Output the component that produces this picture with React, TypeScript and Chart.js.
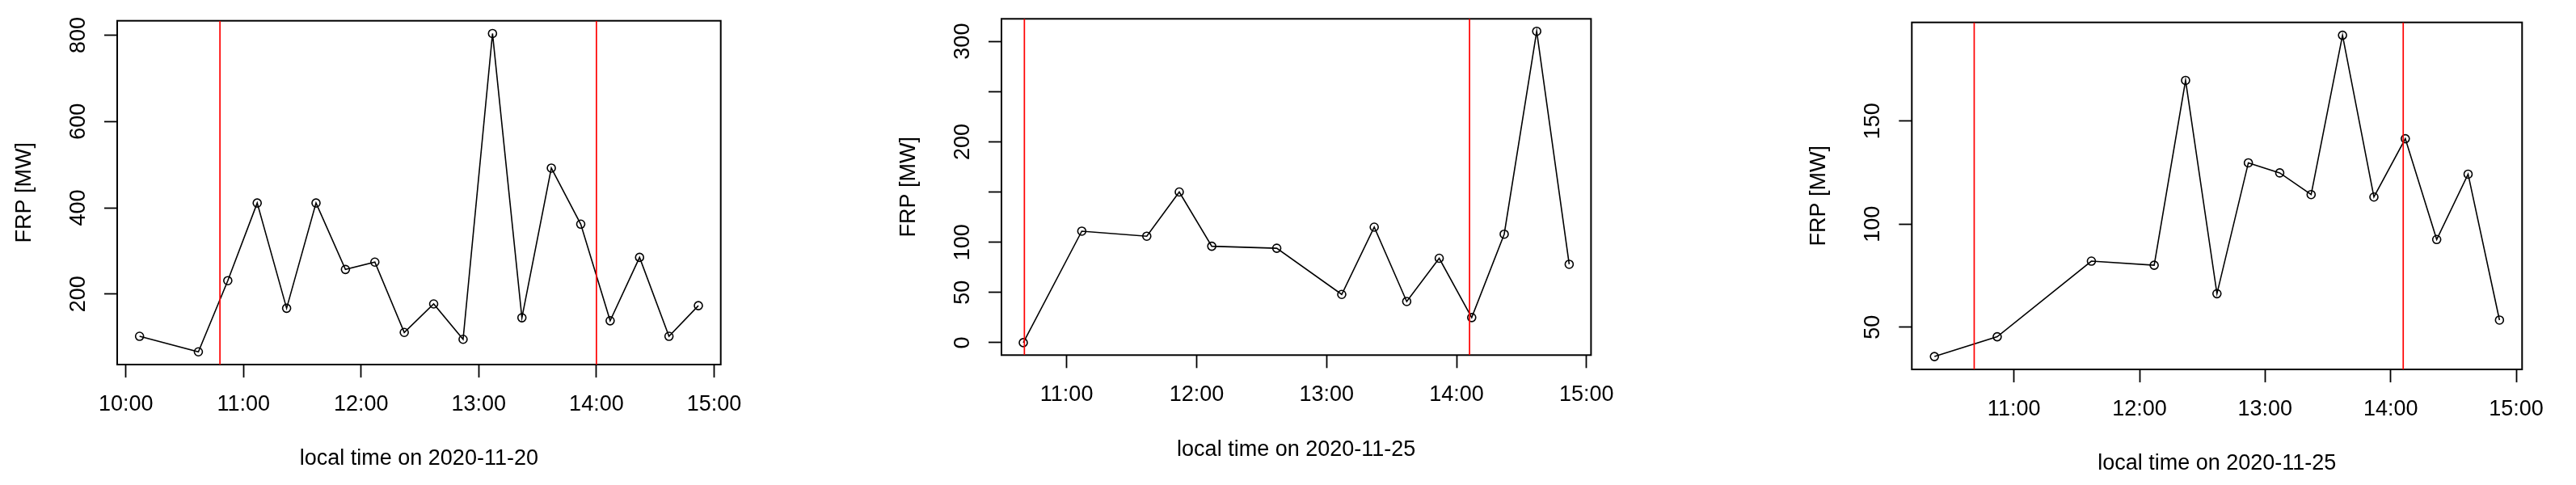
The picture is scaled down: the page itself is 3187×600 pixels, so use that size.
import React, { useEffect, useRef } from "react";
import { Chart, registerables } from "chart.js";

Chart.register(...registerables);

const FONT = "'Liberation Sans', Arial, Helvetica, sans-serif";
const FONT_SIZE = 27;

// ---------- Panel 1 : 2020-11-20 ----------
const times1 = ["10:07", "10:37", "10:52", "11:07", "11:22", "11:37", "11:52", "12:07", "12:22", "12:37", "12:52", "13:07", "13:22", "13:37", "13:52", "14:07", "14:22", "14:37", "14:52"];
const frp1 = [102, 66, 231, 411, 167, 411, 257, 274, 111, 177, 95, 804, 145, 492, 362, 138, 285, 102, 173];
const redLines1 = ["10:48", "14:00"];
const xTicks1 = ["10:00", "11:00", "12:00", "13:00", "14:00", "15:00"];
const yTicks1 = [200, 400, 600, 800];
const yTickLabels1 = ["200", "400", "600", "800"];
const xTitle1 = "local time on 2020-11-20";

// ---------- Panel 2 : 2020-11-25 ----------
const times2 = ["10:40", "11:07", "11:37", "11:52", "12:07", "12:37", "13:07", "13:22", "13:37", "13:52", "14:07", "14:22", "14:37", "14:52"];
const frp2 = [0, 111, 106, 150, 96, 94, 48, 115, 41, 84, 25, 108, 310, 78];
const redLines2 = ["10:40:30", "14:06"];
const xTicks2 = ["11:00", "12:00", "13:00", "14:00", "15:00"];
const yTicks2 = [0, 50, 100, 150, 200, 250, 300];
const yTickLabels2 = ["0", "50", "100", "", "200", "", "300"];
const xTitle2 = "local time on 2020-11-25";

// ---------- Panel 3 : 2020-11-25 ----------
const times3 = ["10:22", "10:52", "11:37", "12:07", "12:22", "12:37", "12:52", "13:07", "13:22", "13:37", "13:52", "14:07", "14:22", "14:37", "14:52"];
const frp3 = [35.7, 45.3, 82, 80, 169.7, 66.2, 129.7, 124.8, 114.3, 191.6, 113.1, 141.4, 92.5, 124.2, 53.4];
const redLines3 = ["10:41", "14:06"];
const xTicks3 = ["11:00", "12:00", "13:00", "14:00", "15:00"];
const yTicks3 = [50, 100, 150];
const yTickLabels3 = ["50", "100", "150"];
const xTitle3 = "local time on 2020-11-25";

const yTitle = "FRP [MW]";

// ---------- helpers ----------
const toHours = (s: string) => {
  const p = s.split(":").map(Number);
  return p[0] + (p[1] || 0) / 60 + (p[2] || 0) / 3600;
};
// R default axis range: data range extended by 4% on each side
const rRange = (vals: number[]) => {
  const lo = Math.min(...vals);
  const hi = Math.max(...vals);
  const d = (hi - lo) * 0.04;
  return [lo - d, hi + d];
};

type PanelCfg = {
  canvasLeft: number;
  width: number;
  box: { L: number; R: number; T: number; B: number };
  times: string[];
  frp: number[];
  redLines: string[];
  xTicks: string[];
  yTicks: number[];
  yTickLabels: string[];
  xTitle: string;
};

const panels: PanelCfg[] = [
  { canvasLeft: 0, width: 1050, box: { L: 145, R: 891.7, T: 25.7, B: 451 }, times: times1, frp: frp1, redLines: redLines1, xTicks: xTicks1, yTicks: yTicks1, yTickLabels: yTickLabels1, xTitle: xTitle1 },
  { canvasLeft: 1094, width: 1090, box: { L: 1239, R: 1968.4, T: 23.3, B: 439.3 }, times: times2, frp: frp2, redLines: redLines2, xTicks: xTicks2, yTicks: yTicks2, yTickLabels: yTickLabels2, xTitle: xTitle2 },
  { canvasLeft: 2220, width: 967, box: { L: 2365.3, R: 3120.3, T: 27.7, B: 457 }, times: times3, frp: frp3, redLines: redLines3, xTicks: xTicks3, yTicks: yTicks3, yTickLabels: yTickLabels3, xTitle: xTitle3 },
];

const boxPlugin = {
  id: "rbox",
  beforeDatasetsDraw(chart: any) {
    const { ctx, chartArea: a } = chart;
    ctx.save();
    ctx.strokeStyle = "#000";
    ctx.lineWidth = 2;
    ctx.strokeRect(a.left, a.top, a.right - a.left, a.bottom - a.top);
    ctx.restore();
  },
};

const H = 600;

function Panel({ cfg }: { cfg: PanelCfg }) {
  const ref = useRef<HTMLCanvasElement | null>(null);
  useEffect(() => {
    if (!ref.current) return;
    const xs = cfg.times.map(toHours);
    const [xMin, xMax] = rRange(xs);
    const [yMin, yMax] = rRange(cfg.frp);
    const xTickVals = cfg.xTicks.map(toHours);
    const { L, R, T, B } = cfg.box;
    const font = { family: FONT, size: FONT_SIZE };

    const datasets: any[] = [
      {
        data: xs.map((x, i) => ({ x, y: cfg.frp[i] })),
        borderColor: "#000",
        borderWidth: 1.6,
        pointRadius: 5,
        pointBorderWidth: 1.6,
        pointBorderColor: "#000",
        pointBackgroundColor: "rgba(0,0,0,0)",
        tension: 0,
        order: 1,
      },
      ...cfg.redLines.map((t) => ({
        data: [
          { x: toHours(t), y: yMin },
          { x: toHours(t), y: yMax },
        ],
        borderColor: "#ff0000",
        borderWidth: 1.7,
        pointRadius: 0,
        order: 0,
      })),
    ];

    const chart = new Chart(ref.current, {
      type: "line",
      data: { datasets },
      plugins: [boxPlugin],
      options: {
        responsive: false,
        animation: false,
        events: [],
        layout: { padding: { left: 0, top: T, right: cfg.canvasLeft + cfg.width - R, bottom: 0 } },
        plugins: { legend: { display: false }, tooltip: { enabled: false } },
        scales: {
          x: {
            type: "linear",
            position: "bottom",
            min: xMin,
            max: xMax,
            afterBuildTicks: (s: any) => {
              s.ticks = xTickVals.map((v) => ({ value: v }));
            },
            afterFit: (s: any) => {
              s.height = H - B;
              s.paddingLeft = 0;
              s.paddingRight = 0;
              s.paddingTop = 0;
              s.paddingBottom = 0;
            },
            border: { display: false },
            grid: { display: true, drawOnChartArea: false, drawTicks: true, tickLength: 16, tickWidth: 1.8, tickColor: "#000", color: "#000" },
            ticks: {
              autoSkip: false,
              minRotation: 0,
              maxRotation: 0,
              padding: 17,
              color: "#000",
              font,
              callback: (_v: any, i: number) => cfg.xTicks[i],
            },
            title: { display: true, text: cfg.xTitle, color: "#000", font, padding: { top: 0, bottom: 466.8 - B } },
          },
          y: {
            type: "linear",
            position: "left",
            min: yMin,
            max: yMax,
            afterBuildTicks: (s: any) => {
              s.ticks = cfg.yTicks.map((v) => ({ value: v }));
            },
            afterFit: (s: any) => {
              s.width = L - cfg.canvasLeft;
              s.paddingLeft = 0;
              s.paddingRight = 0;
              s.paddingTop = 0;
              s.paddingBottom = 0;
            },
            border: { display: false },
            grid: { display: true, drawOnChartArea: false, drawTicks: true, tickLength: 16, tickWidth: 1.8, tickColor: "#000", color: "#000" },
            ticks: {
              autoSkip: false,
              minRotation: 90,
              maxRotation: 90,
              crossAlign: "center",
              padding: 9.4,
              color: "#000",
              font,
              callback: (_v: any, i: number) => cfg.yTickLabels[i],
            },
            title: { display: true, text: yTitle, color: "#000", font, padding: { top: 13.9, bottom: 0 } },
          },
        },
      } as any,
    });
    return () => chart.destroy();
  }, [cfg]);

  return (
    <canvas
      ref={ref}
      width={cfg.width}
      height={H}
      style={{ position: "absolute", left: cfg.canvasLeft, top: 0, width: cfg.width, height: H, display: "block" }}
    />
  );
}

export default function App() {
  return (
    <div style={{ position: "absolute", left: 0, top: 0, width: 3187, height: H, background: "#fff", overflow: "hidden" }}>
      {panels.map((p, i) => (
        <Panel key={i} cfg={p} />
      ))}
    </div>
  );
}
